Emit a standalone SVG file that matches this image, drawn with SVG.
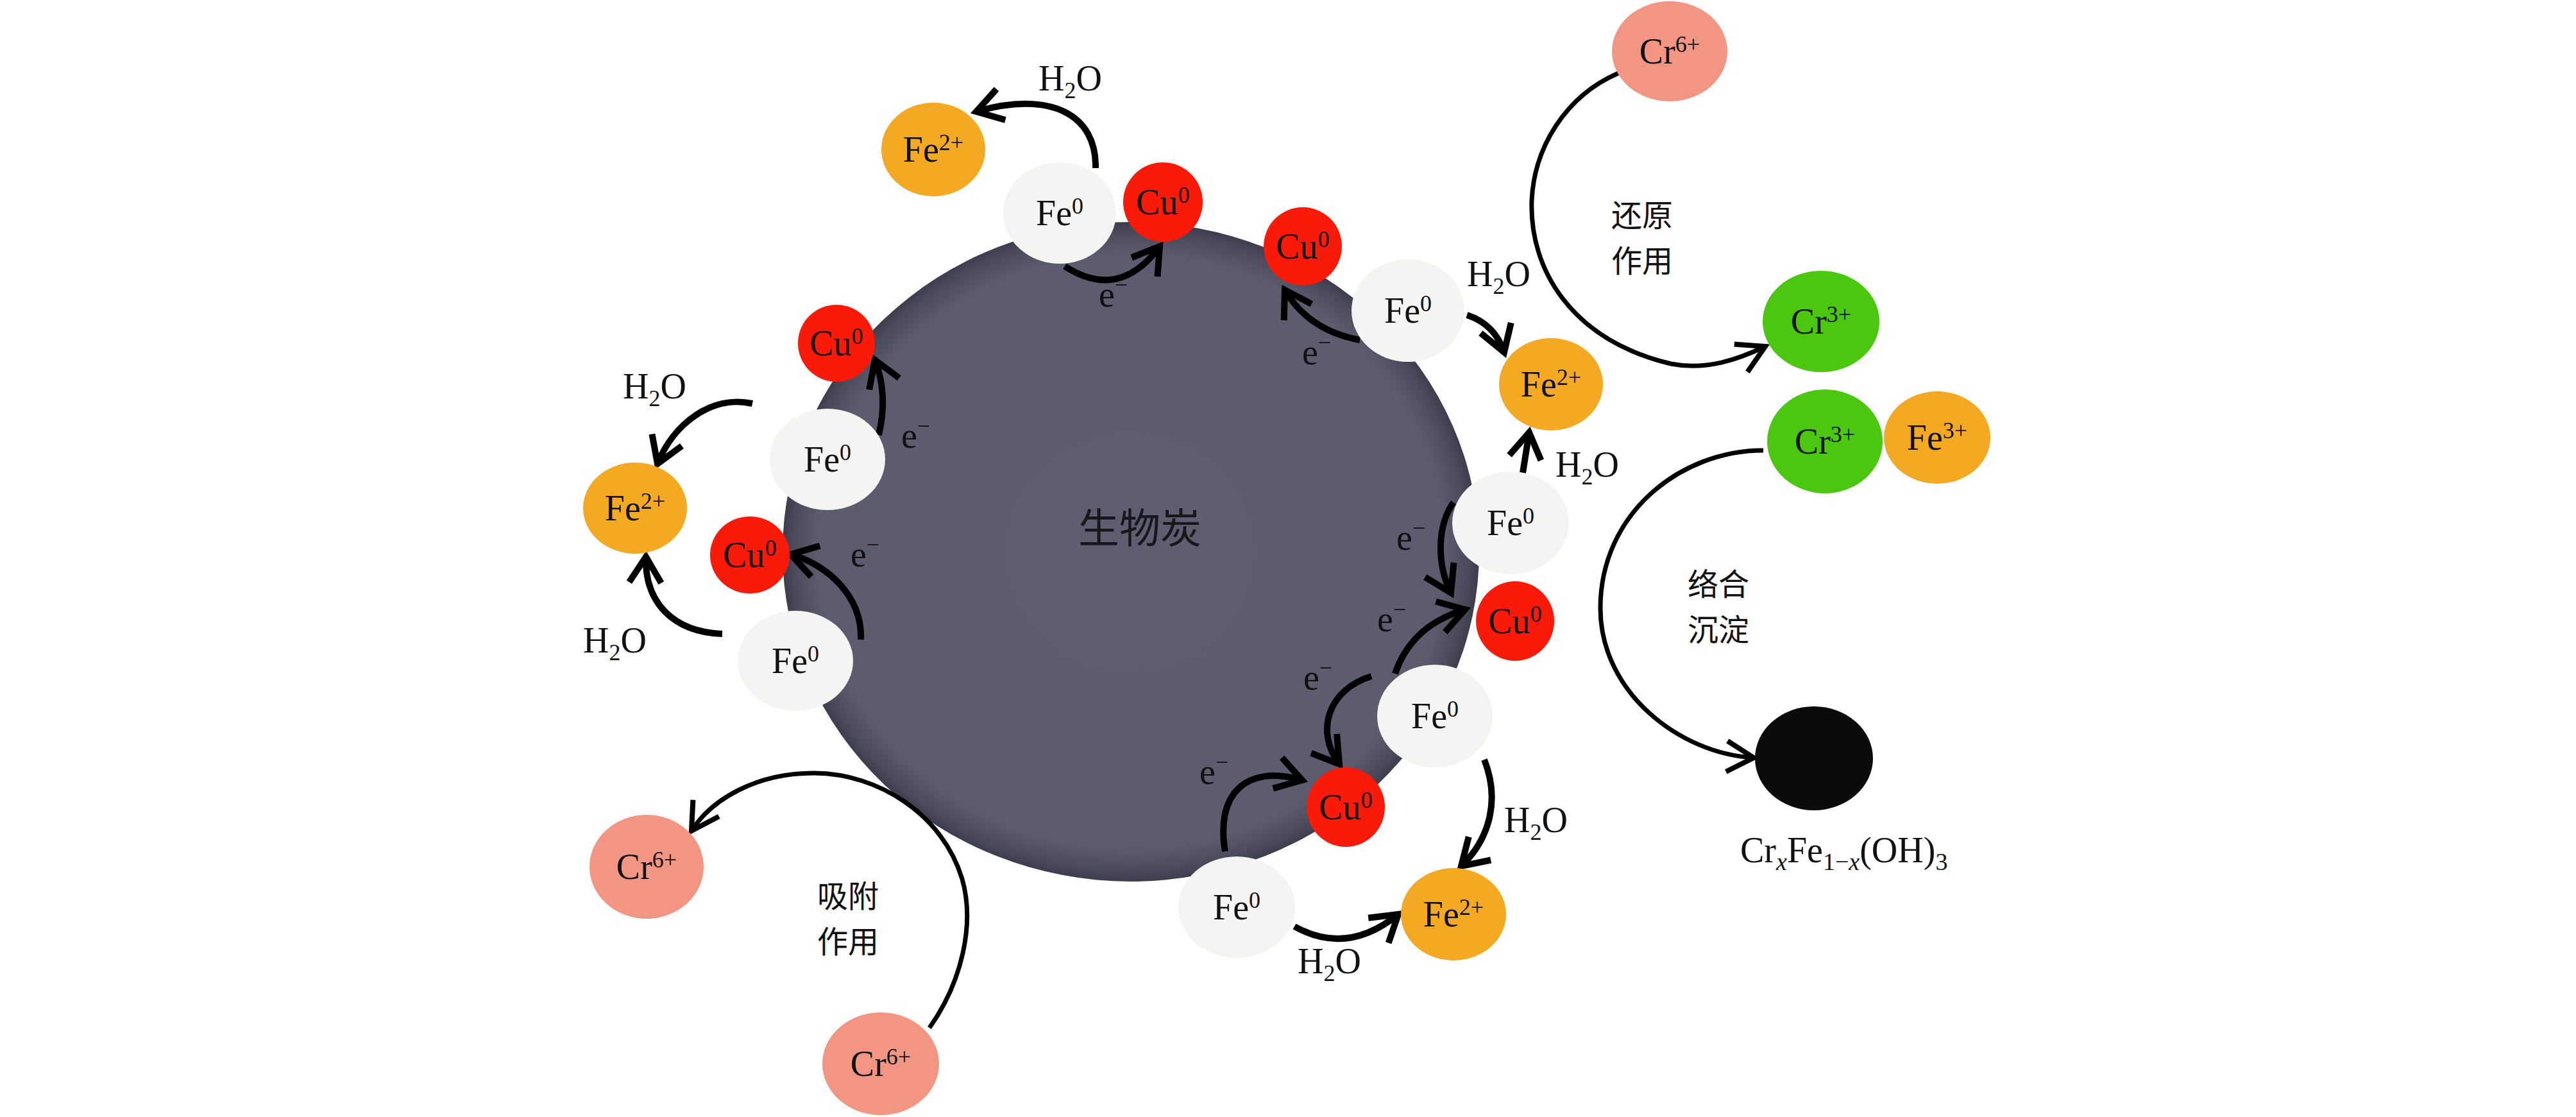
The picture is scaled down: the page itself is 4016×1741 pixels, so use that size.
<svg xmlns="http://www.w3.org/2000/svg" width="4016" height="1741" viewBox="0 0 4016 1741">
<style>
.lbl{font-family:"Liberation Serif","Times New Roman",serif;font-size:56px;fill:#111;}
.ctr{text-anchor:middle;}
.cjk{font-family:"Noto Sans CJK SC","Noto Sans CJK TC",sans-serif;font-size:48px;fill:#111;text-anchor:middle;}
.fe0{fill:#f4f4f2;}
.cu0{fill:#fa1a0a;}
.fe2{fill:#f4a923;}
.cr6{fill:#f29683;}
.cr3{fill:#4bc710;}
.blk{fill:#0b0b0b;}
.arr{fill:none;stroke:#000;stroke-width:10;stroke-linecap:butt;marker-end:url(#ah);}
.arc{fill:none;stroke:#000;stroke-width:7;marker-end:url(#ah2);}
</style>
<defs>
<radialGradient id="bio" cx="0.5" cy="0.5" r="0.5">
<stop offset="0" stop-color="#5f5e70"/>
<stop offset="0.9" stop-color="#5d5c6e"/>
<stop offset="0.97" stop-color="#4b4a5b"/>
<stop offset="1" stop-color="#3e3d4d"/>
</radialGradient>
<marker id="ah" markerUnits="userSpaceOnUse" markerWidth="90" markerHeight="90" viewBox="-60 -45 90 90" refX="0" refY="0" orient="auto">
<path d="M-40,-25 L0,0 L-40,25" fill="none" stroke="#000" stroke-width="10"/>
</marker>
<marker id="ah2" markerUnits="userSpaceOnUse" markerWidth="90" markerHeight="90" viewBox="-60 -45 90 90" refX="0" refY="0" orient="auto">
<path d="M-42,-24 L0,0 L-42,24" fill="none" stroke="#000" stroke-width="8"/>
</marker>
</defs>
<rect width="4016" height="1741" fill="#fff"/>

<g id="biochar">
<ellipse cx="1763" cy="860" rx="543" ry="514" fill="url(#bio)"/>
<text class="cjk" x="1777" y="846" style="font-size:64px;fill:#18181c">生物炭</text>
</g>

<g id="connectors">
<path class="arr" d="M1708,262 C1710,180 1640,140 1522,174"/>
<path class="arr" d="M1660,415 Q1745,470 1808,384"/>
<path class="arr" d="M2120,530 Q2040,515 2003,452"/>
<path class="arr" d="M2287,491 Q2330,505 2345,549"/>
<path class="arr" d="M2374,737 L2384,674"/>
<path class="arr" d="M2266,783 C2240,820 2240,880 2262,924"/>
<path class="arr" d="M2175,1050 Q2200,975 2284,950"/>
<path class="arr" d="M2138,1054 C2070,1075 2050,1140 2088,1191"/>
<path class="arr" d="M1910,1327 C1895,1240 1940,1190 2030,1216"/>
<path class="arr" d="M2314,1184 C2340,1250 2320,1310 2278,1350"/>
<path class="arr" d="M2018,1444 Q2100,1490 2180,1425"/>
<path class="arr" d="M1370,678 Q1385,615 1364,561"/>
<path class="arr" d="M1342,997 C1345,930 1290,880 1233,864"/>
<path class="arr" d="M1173,629 C1110,615 1050,660 1025,723"/>
<path class="arr" d="M1126,988 C1050,985 1005,940 1007,868"/>
<path class="arc" d="M2523,114 C2440,150 2392,230 2388,312 C2384,420 2450,530 2605,567 C2660,578 2710,560 2752,540"/>
<path class="arc" d="M2749,702 C2620,702 2495,800 2495,948 C2495,1080 2620,1175 2734,1181"/>
<path class="arc" d="M1449,1602 C1500,1530 1520,1440 1500,1370 C1470,1270 1370,1205 1268,1205 C1180,1205 1110,1245 1078,1295"/>
<text class="lbl" x="1619" y="141">H<tspan font-size="36" dy="12">2</tspan><tspan dy="-12">O</tspan></text>
<text class="lbl" x="971" y="621">H<tspan font-size="36" dy="12">2</tspan><tspan dy="-12">O</tspan></text>
<text class="lbl" x="909" y="1017">H<tspan font-size="36" dy="12">2</tspan><tspan dy="-12">O</tspan></text>
<text class="lbl" x="2287" y="446">H<tspan font-size="36" dy="12">2</tspan><tspan dy="-12">O</tspan></text>
<text class="lbl" x="2425" y="743">H<tspan font-size="36" dy="12">2</tspan><tspan dy="-12">O</tspan></text>
<text class="lbl" x="2345" y="1297">H<tspan font-size="36" dy="12">2</tspan><tspan dy="-12">O</tspan></text>
<text class="lbl" x="2023" y="1517">H<tspan font-size="36" dy="12">2</tspan><tspan dy="-12">O</tspan></text>
<text class="lbl" x="1713" y="478">e<tspan font-size="36" dy="-22">−</tspan></text>
<text class="lbl" x="2030" y="568">e<tspan font-size="36" dy="-22">−</tspan></text>
<text class="lbl" x="1405" y="698">e<tspan font-size="36" dy="-22">−</tspan></text>
<text class="lbl" x="1326" y="883">e<tspan font-size="36" dy="-22">−</tspan></text>
<text class="lbl" x="2177" y="857">e<tspan font-size="36" dy="-22">−</tspan></text>
<text class="lbl" x="2147" y="984">e<tspan font-size="36" dy="-22">−</tspan></text>
<text class="lbl" x="2032" y="1075">e<tspan font-size="36" dy="-22">−</tspan></text>
<text class="lbl" x="1870" y="1222">e<tspan font-size="36" dy="-22">−</tspan></text>
<text class="cjk" x="2560" y="353">还原</text>
<text class="cjk" x="2560" y="424">作用</text>
<text class="cjk" x="2679" y="928">络合</text>
<text class="cjk" x="2679" y="999">沉淀</text>
<text class="cjk" x="1322" y="1414">吸附</text>
<text class="cjk" x="1322" y="1485">作用</text>
</g>

<g id="n-fe2-1"><ellipse class="fe2" cx="1455" cy="233" rx="81" ry="73"/><text class="lbl ctr" x="1455" y="252">Fe<tspan font-size="36" dy="-18">2+</tspan></text></g>
<g id="n-fe0-1"><ellipse class="fe0" cx="1652" cy="332" rx="88" ry="79"/><text class="lbl ctr" x="1652" y="351">Fe<tspan font-size="36" dy="-18">0</tspan></text></g>
<g id="n-cu0-1"><ellipse class="cu0" cx="1813" cy="315" rx="62" ry="62"/><text class="lbl ctr" x="1813" y="334">Cu<tspan font-size="36" dy="-18">0</tspan></text></g>
<g id="n-cu0-2"><ellipse class="cu0" cx="2031" cy="384" rx="61" ry="61"/><text class="lbl ctr" x="2031" y="403">Cu<tspan font-size="36" dy="-18">0</tspan></text></g>
<g id="n-fe0-2"><ellipse class="fe0" cx="2195" cy="484" rx="88" ry="80"/><text class="lbl ctr" x="2195" y="503">Fe<tspan font-size="36" dy="-18">0</tspan></text></g>
<g id="n-fe2-2"><ellipse class="fe2" cx="2418" cy="599" rx="81" ry="72"/><text class="lbl ctr" x="2418" y="618">Fe<tspan font-size="36" dy="-18">2+</tspan></text></g>
<g id="n-fe0-3"><ellipse class="fe0" cx="2355" cy="815" rx="91" ry="80"/><text class="lbl ctr" x="2355" y="834">Fe<tspan font-size="36" dy="-18">0</tspan></text></g>
<g id="n-cu0-3"><ellipse class="cu0" cx="2362" cy="968" rx="61" ry="62"/><text class="lbl ctr" x="2362" y="987">Cu<tspan font-size="36" dy="-18">0</tspan></text></g>
<g id="n-fe0-4"><ellipse class="fe0" cx="2237" cy="1116" rx="90" ry="80"/><text class="lbl ctr" x="2237" y="1135">Fe<tspan font-size="36" dy="-18">0</tspan></text></g>
<g id="n-cu0-4"><ellipse class="cu0" cx="2098" cy="1258" rx="61" ry="62"/><text class="lbl ctr" x="2098" y="1277">Cu<tspan font-size="36" dy="-18">0</tspan></text></g>
<g id="n-fe0-5"><ellipse class="fe0" cx="1928" cy="1414" rx="91" ry="79"/><text class="lbl ctr" x="1928" y="1433">Fe<tspan font-size="36" dy="-18">0</tspan></text></g>
<g id="n-fe2-3"><ellipse class="fe2" cx="2266" cy="1425" rx="82" ry="72"/><text class="lbl ctr" x="2266" y="1444">Fe<tspan font-size="36" dy="-18">2+</tspan></text></g>
<g id="n-cu0-5"><ellipse class="cu0" cx="1304" cy="535" rx="60" ry="60"/><text class="lbl ctr" x="1304" y="554">Cu<tspan font-size="36" dy="-18">0</tspan></text></g>
<g id="n-fe0-6"><ellipse class="fe0" cx="1290" cy="716" rx="90" ry="79"/><text class="lbl ctr" x="1290" y="735">Fe<tspan font-size="36" dy="-18">0</tspan></text></g>
<g id="n-fe2-4"><ellipse class="fe2" cx="990" cy="792" rx="81" ry="71"/><text class="lbl ctr" x="990" y="811">Fe<tspan font-size="36" dy="-18">2+</tspan></text></g>
<g id="n-cu0-6"><ellipse class="cu0" cx="1169" cy="865" rx="62" ry="60"/><text class="lbl ctr" x="1169" y="884">Cu<tspan font-size="36" dy="-18">0</tspan></text></g>
<g id="n-fe0-7"><ellipse class="fe0" cx="1240" cy="1030" rx="90" ry="78"/><text class="lbl ctr" x="1240" y="1049">Fe<tspan font-size="36" dy="-18">0</tspan></text></g>
<g id="n-cr6-1"><ellipse class="cr6" cx="1008" cy="1351" rx="89" ry="81"/><text class="lbl ctr" x="1008" y="1370">Cr<tspan font-size="36" dy="-18">6+</tspan></text></g>
<g id="n-cr6-2"><ellipse class="cr6" cx="1373" cy="1658" rx="91" ry="80"/><text class="lbl ctr" x="1373" y="1677">Cr<tspan font-size="36" dy="-18">6+</tspan></text></g>
<g id="n-cr6-3"><ellipse class="cr6" cx="2603" cy="80" rx="90" ry="78"/><text class="lbl ctr" x="2603" y="99">Cr<tspan font-size="36" dy="-18">6+</tspan></text></g>
<g id="n-cr3-1"><ellipse class="cr3" cx="2839" cy="501" rx="91" ry="79"/><text class="lbl ctr" x="2839" y="520">Cr<tspan font-size="36" dy="-18">3+</tspan></text></g>
<g id="n-cr3-2"><ellipse class="cr3" cx="2845" cy="688" rx="90" ry="81"/><text class="lbl ctr" x="2845" y="707">Cr<tspan font-size="36" dy="-18">3+</tspan></text></g>
<g id="n-fe3"><ellipse class="fe2" cx="3020" cy="682" rx="83" ry="72"/><text class="lbl ctr" x="3020" y="701">Fe<tspan font-size="36" dy="-18">3+</tspan></text></g>
<g id="n-precip"><ellipse class="blk" cx="2828" cy="1182" rx="92" ry="81"/><text class="lbl" x="2713" y="1344">Cr<tspan font-size="38" font-style="italic" dy="12">x</tspan><tspan dy="-12">Fe</tspan><tspan font-size="38" dy="12">1−</tspan><tspan font-size="38" font-style="italic">x</tspan><tspan dy="-12">(OH)</tspan><tspan font-size="38" dy="12">3</tspan></text></g>
</svg>
